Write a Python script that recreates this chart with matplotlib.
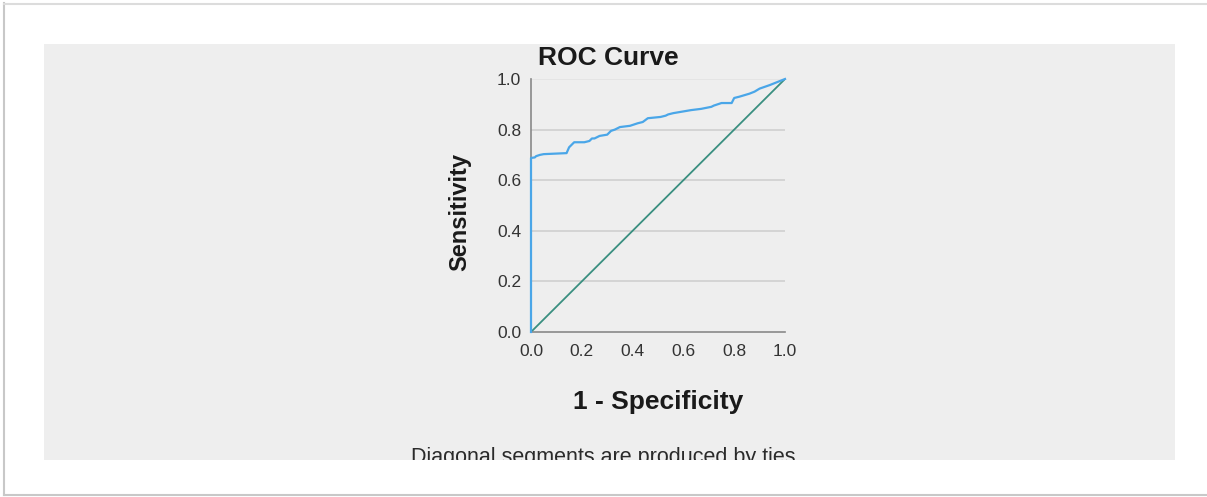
import matplotlib
matplotlib.use("Agg")
import matplotlib.pyplot as plt
from matplotlib.patches import Rectangle
from matplotlib.lines import Line2D

plt.rcParams['font.family'] = ['Liberation Sans', 'DejaVu Sans']

fpr = [0.0, 0.0, 0.015, 0.02, 0.035, 0.05, 0.14, 0.15, 0.17, 0.21, 0.23, 0.24, 0.25, 0.27,
       0.30, 0.315, 0.33, 0.35, 0.39, 0.42, 0.44, 0.46, 0.51, 0.53, 0.54, 0.56, 0.63, 0.67,
       0.71, 0.72, 0.75, 0.79, 0.80, 0.82, 0.86, 0.88, 0.90, 0.94, 1.0]
tpr = [0.0, 0.688, 0.69, 0.695, 0.70, 0.703, 0.707, 0.73, 0.75, 0.75, 0.755, 0.765, 0.765,
       0.775, 0.78, 0.795, 0.80, 0.81, 0.815, 0.825, 0.83, 0.845, 0.85, 0.855, 0.86, 0.865,
       0.877, 0.882, 0.89, 0.895, 0.905, 0.905, 0.925, 0.93, 0.942, 0.95, 0.962, 0.976, 1.0]
ref_line = [0.0, 1.0]
ticks = [0.0, 0.2, 0.4, 0.6, 0.8, 1.0]
tick_labels = ["0.0", "0.2", "0.4", "0.6", "0.8", "1.0"]

W, H = 1207, 497
fig = plt.figure(figsize=(W / 100, H / 100), dpi=100)
fig.patch.set_facecolor('white')

# outer frame lines
fig.add_artist(Line2D([4 / W, 4 / W], [2 / H, 1 - 3 / H], transform=fig.transFigure, color='#c8c8c8', lw=1.5))
fig.add_artist(Line2D([4 / W, 1], [1 - 3.5 / H, 1 - 3.5 / H], transform=fig.transFigure, color='#dcdcdc', lw=1.5))
fig.add_artist(Line2D([4 / W, 1], [2 / H, 2 / H], transform=fig.transFigure, color='#c8c8c8', lw=1.5))

# gray panel
px0, px1, py0, py1 = 44, 1175, 44, 460
panel = Rectangle((px0 / W, 1 - py1 / H), (px1 - px0) / W, (py1 - py0) / H,
                  transform=fig.transFigure, facecolor='#eeeeee', edgecolor='none', zorder=0)
fig.add_artist(panel)

ax_l, ax_r, ax_t, ax_b = 531, 785, 79, 332
ax = fig.add_axes([ax_l / W, 1 - ax_b / H, (ax_r - ax_l) / W, (ax_b - ax_t) / H])
ax.set_facecolor('none')
ax.set_xlim(0, 1)
ax.set_ylim(0, 1)
for s in ['top', 'right']:
    ax.spines[s].set_visible(False)
for s in ['left', 'bottom']:
    ax.spines[s].set_color('#888888')
    ax.spines[s].set_linewidth(1.2)
ax.set_xticks(ticks)
ax.set_xticklabels(tick_labels)
ax.set_yticks(ticks)
ax.set_yticklabels(tick_labels)
ax.tick_params(length=0, labelsize=12.5, colors='#333333')
ax.tick_params(axis='x', pad=9)
ax.tick_params(axis='y', pad=7)
for y in ticks[1:]:
    ax.axhline(y, color='#cfcfcf' if y < 1 else '#e2e2e2', lw=1.2, zorder=1)

ax.plot(ref_line, ref_line, color='#3a8f80', lw=1.3, zorder=2)
ax.plot(fpr, tpr, color='#4aa6e8', lw=1.6, zorder=3, clip_on=False)

fig.text(608 / W, 1 - 58 / H, "ROC Curve", ha='center', va='center', fontsize=19,
         fontweight='bold', color='#1a1a1a')
fig.text(658 / W, 1 - 402 / H, "1 - Specificity", ha='center', va='center', fontsize=19,
         fontweight='bold', color='#1a1a1a')
fig.text(460 / W, 1 - 212 / H, "Sensitivity", ha='center', va='center', rotation=90,
         fontsize=17, fontweight='bold', color='#1a1a1a')
note = fig.text(606 / W, 1 - 457 / H, "Diagonal segments are produced by ties.", ha='center',
                va='center', fontsize=15.5, color='#2a2a2a')
note.set_clip_path(panel)
note.set_clip_on(True)

fig.savefig("out.png", dpi=100, facecolor='white')
